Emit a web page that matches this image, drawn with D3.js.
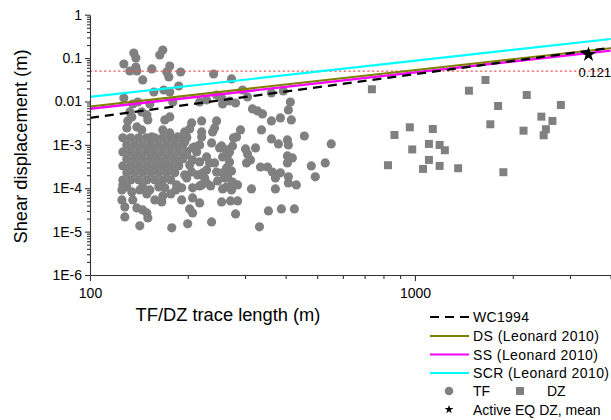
<!DOCTYPE html>
<html><head><meta charset="utf-8">
<script src="https://cdn.jsdelivr.net/npm/d3@7"></script>
<style>body{margin:0;background:#fff;} svg{display:block;font-family:"Liberation Sans",Arial,sans-serif;}</style>
</head><body><svg id="c" width="611" height="420"></svg>
<script>
// ---- data ----
const tfLength = [
136.4,138.4,167.5,164.0,127.1,132.6,139.4,138.4,155.0,145.3,176.0,172.3,174.8,190.1,240.1,272.6,157.2,168.7,176.0,187.5,
127.1,140.3,135.4,152.8,179.8,217.5,228.5,245.2,254.1,255.9,268.8,280.5,294.7,305.3,361.7,393.6,413.6,407.8,316.2,327.7,
339.4,361.7,385.4,416.5,132.6,134.5,130.7,144.3,149.6,150.7,169.9,176.0,129.8,139.4,144.3,167.5,176.0,205.5,220.6,202.6,
220.6,245.2,241.8,155.0,186.2,290.5,337.0,456.6,552.5,220.6,198.4,276.5,361.7,380.0,405.0,407.8,195.6,238.4,282.5,
301.0,323.1,305.3,303.1,334.7,351.7,364.2,385.4,372.0,405.0,419.5,405.0,407.8,431.5,407.8,479.7,493.5,529.6,314.0,372.0,
354.1,388.1,425.5,332.3,270.7,284.5,280.5,209.9,236.7,254.1,274.6,
263.2,265.1,268.8,263.2,272.6,265.1,274.6,284.5,263.2,272.6,311.8,241.8,245.2,255.9,255.9,250.5,268.8,217.5,212.9,206.9,
217.5,228.5,222.2,228.5,233.4,217.5,228.5,235.1,255.9,247.0,206.9,205.5,198.4,214.4,225.3,220.6,259.5,195.6,198.4,202.6,
195.6,191.5,206.9,
183.6,184.9,169.9,152.8,142.3,134.5,126.2,125.4,125.4,128.0,135.4,139.4,158.3,166.3,167.5,191.5,206.9,217.5,254.1,128.0,
142.3,150.7,149.6,145.3,178.5,199.8,206.9,202.6,236.7,
126.2,133.5,141.3,149.6,158.3,167.5,177.2,187.5,198.4,
129.8,137.4,145.3,153.9,162.8,172.3,182.3,192.8,
126.2,133.5,141.3,149.6,158.3,167.5,177.2,187.5,198.4,
129.8,137.4,145.3,153.9,162.8,172.3,182.3,192.8,
126.2,133.5,141.3,149.6,158.3,167.5,177.2,187.5,
129.8,137.4,145.3,153.9,162.8,172.3,182.3,
126.2,133.5,141.3,149.6,158.3,167.5,177.2,
129.8,145.3,162.8,
149.6,177.2
];
const tfDisp = [
0.131,0.1005,0.1537,0.1178,0.0731,0.0504,0.0504,0.0623,0.0561,0.0313,0.0657,0.0478,0.0367,0.0478,0.0430,0.0330,0.01654,0.0184,0.01654,0.02275,
0.0120,0.00971,0.00875,0.00875,0.00971,0.00971,0.0108,0.0141,0.0120,0.00875,0.01024,0.00923,0.0184,0.01268,0.01568,0.01744,0.00971,0.00637,0.00672,0.00604,
0.00516,0.00356,0.00417,0.00375,0.00573,0.00440,0.00356,0.00573,0.00489,0.00375,0.00375,0.00440,0.00246,0.00259,0.00221,0.00221,0.00188,0.00320,0.00356,0.00233,
0.00199,0.00356,0.00246,0.00152,0.00152,0.00221,0.00221,0.00160,0.00105,0.00152,0.00152,0.001446,0.00137,0.00105,0.00130,0.000995,0.00199,0.00199,0.00152,
0.000805,0.000848,0.000617,0.000383,0.000309,0.000309,0.000237,0.000226,0.000172,0.000555,0.000499,0.000383,0.000183,0.000119,0.000132,0.000326,0.000183,0.000383,0.0000964,0.0000964,
0.0000300,0.0000333,0.0000333,0.0000129,0.0000510,0.0000510,0.0000256,0.000895,0.00111,0.000943,0.000943,
0.000763,0.000585,0.000404,0.000294,0.000250,0.000183,0.000139,0.000119,0.000107,0.0000914,0.000449,0.000383,0.000237,0.000226,0.000526,0.000848,0.000686,0.000995,0.000686,0.000449,
0.000404,0.000526,0.000226,0.000264,0.000383,0.000113,0.000132,0.000113,0.0000964,0.000147,0.000848,0.000237,0.000172,0.000203,0.000172,0.000119,0.000172,0.00117,0.000585,0.000344,
0.000203,0.000102,0.000102,
0.0000914,0.000119,0.000102,0.0000914,0.0000914,0.0000822,0.000119,0.0000914,0.0000538,0.0000370,0.0000538,0.0000351,0.0000538,0.0000484,0.0000665,0.0000538,0.0000598,0.0000458,0.0000484,0.0000218,
0.0000136,0.0000207,0.0000270,0.0000316,0.0000122,0.0000151,0.0000270,0.0000333,0.0000167,
0.00145,0.00145,0.00145,0.00145,0.00145,0.00145,0.00145,0.00145,0.00145,
0.000995,0.000995,0.000995,0.000995,0.000995,0.000995,0.000995,0.000995,
0.000686,0.000686,0.000686,0.000686,0.000686,0.000686,0.000686,0.000686,0.000686,
0.000473,0.000473,0.000473,0.000473,0.000473,0.000473,0.000473,0.000473,
0.000326,0.000326,0.000326,0.000326,0.000326,0.000326,0.000326,0.000326,
0.000226,0.000226,0.000226,0.000226,0.000226,0.000226,0.000226,
0.000155,0.000155,0.000155,0.000155,0.000155,0.000155,0.000155,
0.000107,0.000107,0.000107,
0.0000739,0.0000739
];
const dzLength = [737,1648,1466,2208,1803,2812,2449,2649,1706,964,1135,865,2158,2529,2489,1104,1191,1236,981,1104,826,1059,1191,1358,1871];
const dzDisp = [0.0191,0.0313,0.0177,0.0141,0.00787,0.0083,0.00447,0.00356,0.00298,0.00254,0.00232,0.00169,0.00212,0.00229,0.00166,0.00105,0.000995,0.000751,0.000783,0.000449,0.000339,0.000279,0.000327,0.000289,0.000234];

const relLength = [100, 4000];
const wc1994 = [0.0042, 0.172];
const dsLeonard = [0.0077, 0.168];
const ssLeonard = [0.0068, 0.149];
const scrLeonard = [0.0127, 0.275];
const refDisp = 0.05;
const activeLength = [3420];
const activeDisp = [0.121];
const activeLabel = "0.121";

const xTickValues = [100, 1000];
const xTickLabels = ["100", "1000"];
const xMinorTicks = [200,300,400,500,600,700,800,900,2000,3000,4000];
const yTickValues = [1e-6,1e-5,1e-4,1e-3,0.01,0.1,1];
const yTickLabels = ["1E-6","1E-5","1E-4","1E-3","0.01","0.1","1"];
const yMinorTicks = [];
[1e-6,1e-5,1e-4,1e-3,0.01,0.1].forEach(d => { for (let k = 2; k <= 9; k++) yMinorTicks.push(d * k); });

const legendItems = [
  {label: "WC1994", color: "#000", dash: "9,6", width: 2.2, tl: 56},
  {label: "DS (Leonard 2010)", color: "#808000", dash: null, width: 2, tl: 126},
  {label: "SS (Leonard 2010)", color: "#ff00ff", dash: null, width: 2, tl: 125},
  {label: "SCR (Leonard 2010)", color: "#00ffff", dash: null, width: 2, tl: 136}
];

// ---- chart ----
const svg = d3.select("#c");
const x = d3.scaleLog().domain([100, 4000]).range([90, 610.6]);
const y = d3.scaleLog().domain([1e-6, 1]).range([275, 14.7]);
const grey = "#808080";

// scatter TF
svg.append("g").selectAll("circle").data(tfLength).join("circle")
  .attr("cx", d => x(d)).attr("cy", (d, i) => y(tfDisp[i])).attr("r", 4.6).attr("fill", grey);
// scatter DZ
svg.append("g").selectAll("rect").data(dzLength).join("rect")
  .attr("x", d => x(d) - 4).attr("y", (d, i) => y(dzDisp[i]) - 4)
  .attr("width", 8).attr("height", 8).attr("fill", grey);

// reference horizontal dotted line
svg.append("line").attr("x1", x(relLength[0])).attr("x2", x(relLength[1]))
  .attr("y1", y(refDisp)).attr("y2", y(refDisp))
  .attr("stroke", "#f05555").attr("stroke-width", 1.3).attr("stroke-dasharray", "2.2,2.5");

const line = d3.line().x((d, i) => x(relLength[i])).y(d => y(d));
svg.append("path").attr("d", line(scrLeonard)).attr("fill", "none").attr("stroke", "#00ffff").attr("stroke-width", 2.2);
svg.append("path").attr("d", line(ssLeonard)).attr("fill", "none").attr("stroke", "#ff00ff").attr("stroke-width", 2.4);
svg.append("path").attr("d", line(dsLeonard)).attr("fill", "none").attr("stroke", "#808000").attr("stroke-width", 2);
svg.append("path").attr("d", line(wc1994)).attr("fill", "none").attr("stroke", "#000").attr("stroke-width", 2.2).attr("stroke-dasharray", "9,6");

// star
svg.append("g").selectAll("path").data(activeLength).join("path")
  .attr("transform", (d, i) => `translate(${x(d)},${y(activeDisp[i])})`)
  .attr("d", d3.symbol(d3.symbolStar, 72)).attr("fill", "#000");
svg.append("text").attr("x", 611).attr("y", y(activeDisp[0]) + 23).attr("text-anchor", "end")
  .attr("font-size", 13).attr("fill", "#000").text(activeLabel);

// axes
const axCol = "#333";
const gx = svg.append("g").attr("transform", "translate(0,275)");
gx.call(d3.axisBottom(x).tickValues(xTickValues).tickFormat((d, i) => xTickLabels[i]).tickSize(6).tickSizeOuter(0).tickPadding(7));
const gxm = svg.append("g").attr("transform", "translate(0,275)");
gxm.call(d3.axisBottom(x).tickValues(xMinorTicks).tickFormat("").tickSize(4).tickSizeOuter(0));
gxm.select(".domain").remove();
const gy = svg.append("g").attr("transform", "translate(90,0)");
gy.call(d3.axisLeft(y).tickValues(yTickValues).tickFormat((d, i) => yTickLabels[i]).tickSize(5).tickSizeOuter(0).tickPadding(3));
const gym = svg.append("g").attr("transform", "translate(90,0)");
gym.call(d3.axisLeft(y).tickValues(yMinorTicks).tickFormat("").tickSize(3).tickSizeOuter(0));
gym.select(".domain").remove();
[gx, gxm, gy, gym].forEach(g => {
  g.selectAll("path,line").attr("stroke", axCol).attr("stroke-width", 1.1);
  g.selectAll("text").attr("font-size", 14).attr("fill", "#000").attr("font-family", '"Liberation Sans",Arial,sans-serif');
});

// axis titles
svg.append("text").attr("x", 228).attr("y", 321).attr("text-anchor", "middle")
  .attr("font-size", 18.3).attr("fill", "#000").text("TF/DZ trace length (m)");
svg.append("text").attr("transform", "translate(27,146.5) rotate(-90)").attr("text-anchor", "middle")
  .attr("font-size", 18.3).attr("fill", "#000").text("Shear displacement (m)");

// legend
const lg = svg.append("g");
const rowsY = [317, 336, 354.5, 373];
legendItems.forEach((it, i) => {
  lg.append("line").attr("x1", 430).attr("x2", 469).attr("y1", rowsY[i]).attr("y2", rowsY[i])
    .attr("stroke", it.color).attr("stroke-width", it.width).attr("stroke-dasharray", it.dash);
  lg.append("text").attr("x", 473).attr("y", rowsY[i] + 5).attr("font-size", 14).attr("fill", "#000")
    .attr("textLength", it.tl).attr("lengthAdjust", "spacing").text(it.label);
});
lg.append("circle").attr("cx", 449).attr("cy", 391).attr("r", 4.3).attr("fill", grey);
lg.append("text").attr("x", 473).attr("y", 396).attr("font-size", 14).text("TF");
lg.append("rect").attr("x", 516).attr("y", 387).attr("width", 8).attr("height", 8).attr("fill", grey);
lg.append("text").attr("x", 547).attr("y", 396).attr("font-size", 14).text("DZ");
lg.append("path").attr("transform", "translate(449,409.5)").attr("d", d3.symbol(d3.symbolStar, 24)).attr("fill", "#000");
lg.append("text").attr("x", 473).attr("y", 414.5).attr("font-size", 14).text("Active EQ DZ, mean");
</script>
</body></html>
